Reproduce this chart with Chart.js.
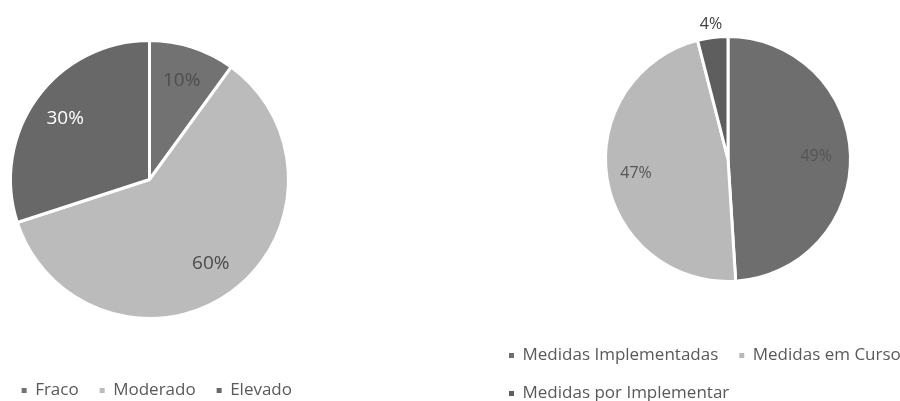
<!DOCTYPE html>
<html>
<head>
<meta charset="utf-8">
<script src="https://cdn.jsdelivr.net/npm/chart.js@4.4.1/dist/chart.umd.min.js"></script>
<style>
  html, body { margin: 0; padding: 0; background: #fff; overflow: hidden; width: 900px; height: 401px; position: relative; }
  canvas { position: absolute; }
  #risco { left: -14px; top: -2px; }
  #medidas { left: 488px; top: -8px; }
</style>
</head>
<body>
<canvas id="risco" width="327" height="411"></canvas>
<canvas id="medidas" width="480" height="420"></canvas>
<script>
// nível de risco
const riscoLabels = ['Fraco', 'Moderado', 'Elevado'];
const riscoValues = [10, 60, 30];
const riscoColors = ['#727272', '#bbbbbb', '#686868'];

// estado das medidas
const medidasLabels = ['Medidas Implementadas', 'Medidas em Curso', 'Medidas por Implementar'];
const medidasValues = [49, 47, 4];
const medidasColors = ['#6e6e6e', '#b9b9b9', '#5e5e5e'];

// escreve "n%" sobre cada fatia
const percentLabels = {
    id: 'percentLabels',
    afterDatasetsDraw(chart, args, opts) {
        let ctx = chart.ctx;
        let values = chart.data.datasets[0].data;
        ctx.save();
        ctx.font = opts.font;
        ctx.textAlign = 'center';
        ctx.textBaseline = 'middle';
        chart.getDatasetMeta(0).data.forEach((arc, i) => {
            let p = arc.getProps(['x', 'y', 'startAngle', 'endAngle', 'outerRadius'], true);
            let mid = (p.startAngle + p.endAngle) / 2;
            let r = p.outerRadius * opts.distance[i];
            ctx.fillStyle = opts.colors[i];
            ctx.fillText(values[i] + '%', p.x + Math.cos(mid) * r, p.y + Math.sin(mid) * r);
        });
        ctx.restore();
    }
};

function getPieConfig(labels, values, colors, radius, align, labelOpts) {
    return {
        type: 'pie',
        data: {
            labels: labels,
            datasets: [{
                data: values,
                backgroundColor: colors,
                borderColor: '#ffffff',
                borderWidth: 3,
                radius: radius
            }]
        },
        options: {
            responsive: false,
            animation: false,
            events: [],
            layout: { padding: 0 },
            plugins: {
                tooltip: { enabled: false },
                legend: {
                    position: 'bottom',
                    align: align,
                    labels: {
                        boxWidth: 5,
                        boxHeight: 5,
                        padding: 21,
                        color: '#595959',
                        font: { family: 'Open Sans', size: 17 },
                        generateLabels: chart => chart.data.labels.map((text, i) => ({
                            text: text,
                            fillStyle: colors[i],
                            strokeStyle: colors[i],
                            lineWidth: 0,
                            fontColor: '#595959',
                            hidden: false,
                            index: i
                        }))
                    }
                },
                percentLabels: labelOpts
            }
        },
        plugins: [percentLabels]
    };
}

let $ = document.querySelector.bind(document);

new Chart($('#risco').getContext('2d'), getPieConfig(riscoLabels, riscoValues, riscoColors, 139, 'end', {
    font: '19px "Open Sans"',
    colors: ['#4e4e4e', '#4a4a4a', '#ffffff'],
    distance: [0.75, 0.75, 0.75]
}));

new Chart($('#medidas').getContext('2d'), getPieConfig(medidasLabels, medidasValues, medidasColors, 122.5, 'start', {
    font: '16px "Open Sans"',
    colors: ['#555555', '#555555', '#404040'],
    distance: [0.72, 0.76, 1.11]
}));
</script>
</body>
</html>
